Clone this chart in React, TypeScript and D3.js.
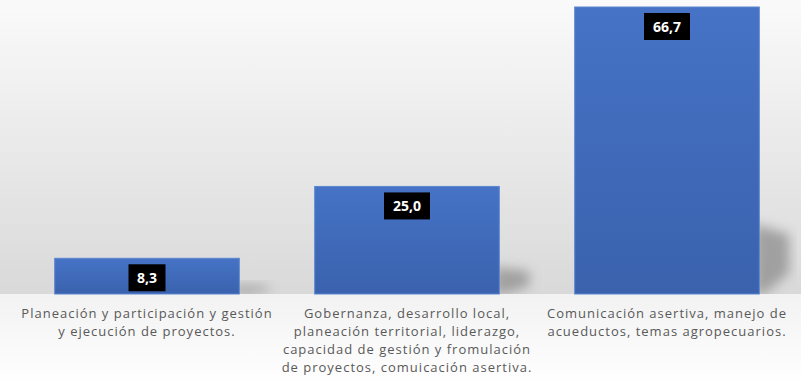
import React from "react";
import * as d3 from "d3";

const categories = [
  ["Planeación y participación y gestión", "y ejecución de proyectos."],
  ["Gobernanza, desarrollo local,", "planeación territorial, liderazgo,", "capacidad de gestión y fromulación", "de proyectos, comuicación asertiva."],
  ["Comunicación asertiva, manejo de", "acueductos, temas agropecuarios."],
];
const values = [8.3, 25.0, 66.7];
const valueLabels = ["8,3", "25,0", "66,7"];

const W = 801;
const H = 386;
const baseY = 294;

export default function App() {
  const x = d3.scaleBand<number>().domain([0, 1, 2]).range([17, 797]).paddingInner(0.29).paddingOuter(0.145);
  const y = d3.scaleLinear().domain([0, 66.7]).range([baseY, 7]);
  const font = "'Open Sans', Lato, sans-serif";
  return (
    <svg width={W} height={H} style={{ position: "absolute", left: 0, top: 0, display: "block" }}>
      <defs>
        <linearGradient id="bgPlot" x1="0" y1="0" x2="0" y2="1">
          <stop offset="0" stopColor="#fafafa" />
          <stop offset="1" stopColor="#d9d9d9" />
        </linearGradient>
        <linearGradient id="bgBottom" x1="0" y1="0" x2="0" y2="1">
          <stop offset="0" stopColor="#f2f2f2" />
          <stop offset="1" stopColor="#ffffff" />
        </linearGradient>
        <linearGradient id="bar" x1="0" y1="0" x2="0" y2="1">
          <stop offset="0" stopColor="#4673c6" />
          <stop offset="1" stopColor="#3a62ad" />
        </linearGradient>
        <filter id="blur" x="-50%" y="-50%" width="200%" height="200%">
          <feGaussianBlur stdDeviation="6" />
        </filter>
        <clipPath id="plotClip">
          <rect x={0} y={0} width={797} height={baseY} />
        </clipPath>
      </defs>
      <rect x={0} y={0} width={W} height={H} fill="#ffffff" />
      <rect x={0} y={0} width={W} height={baseY} fill="url(#bgPlot)" />
      <rect x={0} y={baseY} width={W} height={H - baseY} fill="url(#bgBottom)" />
      <g clipPath="url(#plotClip)">
        {values.map((v, i) => {
          const x0 = x(i)!;
          const bw = x.bandwidth();
          const h = baseY - y(v);
          const sh = Math.min(h * 0.25, 70);
          const x1 = x0 + bw;
          const pts = `${x1 - 5},${baseY} ${x1 - 5},${baseY - sh} ${x1 + 30},${baseY - sh * 0.85} ${x1 + 30},${baseY - sh * 0.3} ${x1 - 5 + 10},${baseY}`;
          return <polygon key={"s" + i} points={pts} fill="#8c8c8c" opacity={0.75} filter="url(#blur)" />;
        })}
      </g>
      {values.map((v, i) => (
        <rect
          key={"b" + i}
          x={x(i)!}
          y={y(v)}
          width={x.bandwidth()}
          height={baseY - y(v)}
          fill="url(#bar)"
          stroke="#5a86d0"
          strokeWidth={1}
        />
      ))}
      {values.map((v, i) => {
        const cx = x(i)! + x.bandwidth() / 2;
        const bwBox = valueLabels[i].length * 9 + 10;
        const top = y(v) + 6;
        return (
          <g key={"l" + i}>
            <rect x={cx - bwBox / 2} y={top} width={bwBox} height={27} fill="#000000" />
            <text x={cx} y={top + 19} textAnchor="middle" fill="#ffffff" fontFamily={font} fontWeight="bold" fontSize={14}>
              {valueLabels[i]}
            </text>
          </g>
        );
      })}
      {categories.map((lines, i) => {
        const cx = x(i)! + x.bandwidth() / 2;
        return (
          <text key={"c" + i} textAnchor="middle" fill="#595959" fontFamily={font} fontSize={13} letterSpacing={1}>
            {lines.map((ln, j) => (
              <tspan key={j} x={cx} y={318 + j * 18}>
                {ln}
              </tspan>
            ))}
          </text>
        );
      })}
    </svg>
  );
}
